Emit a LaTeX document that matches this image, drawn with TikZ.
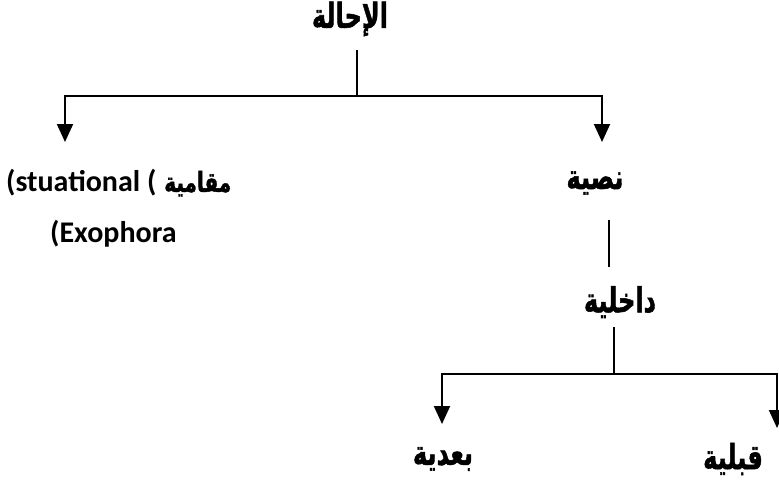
\documentclass[tikz,border=0pt]{standalone}
\usepackage{fontspec}
\usetikzlibrary{arrows.meta}
\TeXXeTstate=1
\newfontfamily\arabicfont[Script=Arabic,FakeBold=1.6]{DejaVu Sans Bold}
\newfontfamily\latinfont{Carlito}
\newcommand{\arw}[1]{\scalebox{0.8}[1.15]{\arabicfont\fontsize{30}{34}\selectfont\beginR #1\endR}}
\newcommand{\arws}[1]{\scalebox{0.8}[1.1]{\arabicfont\fontsize{25}{28}\selectfont\beginR #1\endR}}
\tikzset{
  ar/.style={inner sep=0pt},
  lat/.style={font=\latinfont\bfseries\fontsize{30}{34}\selectfont, inner sep=0pt},
  ln/.style={line width=2pt},
  arr/.style={line width=2pt, -{Triangle[width=16pt,length=18pt]}}
}
\begin{document}
\begin{tikzpicture}[x=1pt,y=-1pt]
\useasboundingbox (0,0) rectangle (779,483);
% nodes
\node[ar] (root) at (350,19) {\arw{الإحالة}};
\node[ar] (nass) at (595,183) {\arw{نصية}};
\node[ar] (dakh) at (620,302) {\arw{داخلية}};
\node[ar] (baad) at (443,459) {\arw{بعدية}};
\node[ar] (qabl) at (733,459) {\arw{قبلية}};
\node[inner sep=0pt, anchor=west] (maq) at (6,183) {{\latinfont\bfseries\fontsize{30}{34}\selectfont (stuational (}\hspace{8pt}\arws{مقامية}};
\node[lat, anchor=west] (exo) at (50,234) {(Exophora};
% coordinates
\coordinate (r1) at (357,50);
\coordinate (j1) at (357,96);
\coordinate (aL) at (65,142);
\coordinate (aR) at (602,142);
\coordinate (n1) at (609,220);
\coordinate (n2) at (609,267);
\coordinate (d1) at (614,327);
\coordinate (j2) at (614,374);
\coordinate (bL) at (442,424);
\coordinate (bR) at (777,428);
% connectors
\draw[ln] (r1) -- (j1);
\draw[arr] (j1) -| (aL);
\draw[arr] (j1) -| (aR);
\draw[ln] (n1) -- (n2);
\draw[ln] (d1) -- (j2);
\draw[arr] (j2) -| (bL);
\draw[arr] (j2) -| (bR);
\end{tikzpicture}
\end{document}
